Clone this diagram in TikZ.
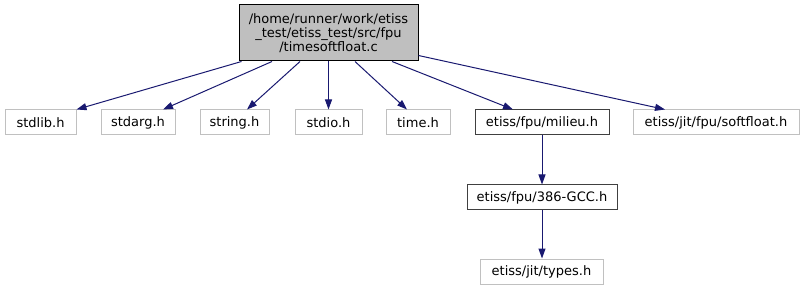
\documentclass[tikz,border=0pt]{standalone}
\usepackage{fontspec}
\setmainfont{DejaVu Sans}
\usetikzlibrary{arrows.meta}
\definecolor{edgeblue}{HTML}{191970}
\definecolor{lightframe}{HTML}{C0C0C0}
\definecolor{mainfill}{HTML}{BFBFBF}
\definecolor{darkframe}{HTML}{404040}
\tikzset{
  filebox/.style={draw=lightframe, line width=1pt, inner sep=0pt,
    minimum height=25pt, font=\fontsize{13}{15}\selectfont, text=black},
  knownbox/.style={filebox, draw=darkframe},
  rootbox/.style={draw=black, fill=mainfill, line width=1pt, inner sep=0pt,
    minimum width=179pt, minimum height=56pt, align=center,
    font=\fontsize{13}{14}\selectfont},
  dep/.style={draw=edgeblue, line width=1pt,
    -{Triangle[length=10pt,width=7pt,fill=edgeblue]}}
}
\begin{document}
\begin{tikzpicture}[x=1pt,y=-1pt]
\useasboundingbox (0,0) rectangle (803,291);
% source file
\node[rootbox] (root) at (328.5,33) {/home/runner/work/etiss\\\_test/etiss\_test/src/fpu\\/timesoftfloat.c};
% first level includes
\node[filebox, minimum width=71pt]  (stdlib)  at (40.5,122.5) {stdlib.h};
\node[filebox, minimum width=74pt]  (stdarg)  at (138,122.5) {stdarg.h};
\node[filebox, minimum width=69pt]  (string)  at (234.5,122.5) {string.h};
\node[filebox, minimum width=67pt]  (stdio)   at (328.5,122.5) {stdio.h};
\node[filebox, minimum width=64pt]  (time)    at (418,122.5) {time.h};
\node[knownbox, minimum width=134pt] (milieu) at (542,122.5) {etiss/fpu/milieu.h};
\node[filebox, minimum width=166pt] (softfloat) at (716,122.5) {etiss/jit/fpu/softfloat.h};
% nested includes
\node[knownbox, minimum width=150pt] (gcc)   at (542,197.5) {etiss/fpu/386-GCC.h};
\node[filebox, minimum width=123pt]  (types) at (541.5,271.5) {etiss/jit/types.h};
% include edges
\draw[dep] ([xshift=3pt]root.south west) -- (stdlib.north east);
\draw[dep] ([xshift=-56.5pt]root.south) -- ([xshift=25pt]stdarg.north);
\draw[dep] ([xshift=-28.5pt]root.south) -- ([xshift=12.5pt]string.north);
\draw[dep] (root.south) -- (stdio.north);
\draw[dep] ([xshift=26.5pt]root.south) -- ([xshift=-11pt]time.north);
\draw[dep] ([xshift=63.5pt]root.south) -- ([xshift=-29pt]milieu.north);
\draw[dep] ([yshift=6pt]root.south east) -- ([xshift=-51pt]softfloat.north);
\draw[dep] (milieu.south) -- (gcc.north);
\draw[dep] (gcc.south) -- (gcc.south |- types.north);
\end{tikzpicture}
\end{document}
